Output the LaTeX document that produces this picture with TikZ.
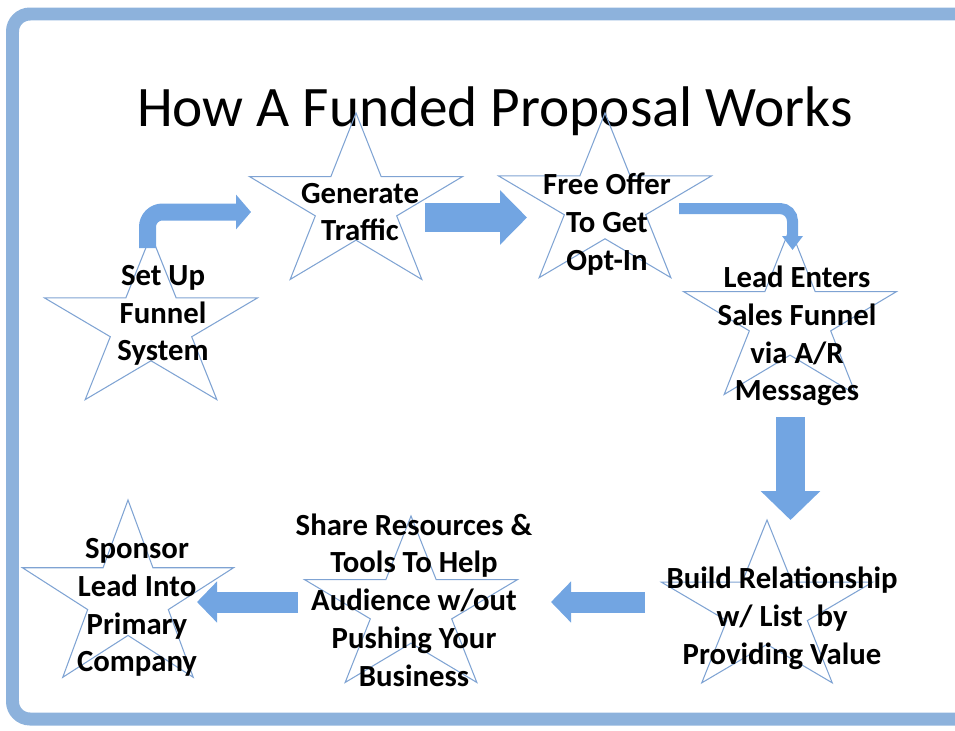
\documentclass[tikz,border=0pt]{standalone}
\usepackage{fontspec}
\setmainfont{Carlito}
\usetikzlibrary{arrows.meta}
\definecolor{frameblue}{HTML}{8DB2DC}
\definecolor{starblue}{HTML}{7FA3D3}
\definecolor{arrowblue}{HTML}{72A5E2}
\tikzset{%
    steptext/.style={align=center, inner sep=0pt,
        font=\fontsize{17.5}{21.5}\selectfont\bfseries},
    starline/.style={draw=starblue, line width=0.6pt},
    blockarrow/.style n args={3}{draw=arrowblue, line width=#1,
        -{Triangle[width=#2,length=#3]}},
    pics/fstar/.style n args={2}{code={%
        \draw[starline, xscale=#1, yscale=-#2] (90:1)
            \foreach \k in {1,...,9}{ -- ({90+36*\k}:{0.691+0.309*cos(180*\k)}) } -- cycle;
    }}
}

\begin{document}
\begin{tikzpicture}[x=0.02cm, y=-0.02cm]
    \useasboundingbox (0,0) rectangle (955,730);
    \draw[frameblue, line width=0.26cm, rounded corners=0.35cm] (12.5,14) rectangle (1010,719);
    \node[anchor=base, font=\fontsize{32.6}{39}\selectfont] (title) at (495,126) {How A Funded Proposal Works};

    % stars
    \path (151,326) pic {fstar={112}{91}};
    \path (356,205) pic {fstar={112}{92}};
    \path (605,204) pic {fstar={112}{91}};
    \path (790,320) pic {fstar={112}{92}};
    \path (767,610) pic {fstar={111}{90}};
    \path (411,608) pic {fstar={112}{92}};
    \path (128,598) pic {fstar={111}{98}};

    % arrow ends
    \coordinate (a1s) at (147.5,248);  \coordinate (a1e) at (251,212);
    \coordinate (a2s) at (425,217.5);  \coordinate (a2e) at (527,217.5);
    \coordinate (a3s) at (679,208.5);  \coordinate (a3e) at (792.5,250);
    \coordinate (a4s) at (790.5,417);  \coordinate (a4e) at (790.5,520);
    \coordinate (a5s) at (645,602);    \coordinate (a5e) at (551,602);
    \coordinate (a6s) at (298,602);    \coordinate (a6e) at (197,602);

    \draw[blockarrow={0.34cm}{0.68cm}{0.3cm}, rounded corners=0.3cm] (a1s) |- (a1e);
    \draw[blockarrow={0.58cm}{1.06cm}{0.54cm}] (a2s) -- (a2e);
    \draw[blockarrow={0.22cm}{0.4cm}{0.28cm}, rounded corners=0.25cm] (a3s) -| (a3e);
    \draw[blockarrow={0.58cm}{1.16cm}{0.58cm}] (a4s) -- (a4e);
    \draw[blockarrow={0.42cm}{0.8cm}{0.4cm}] (a5s) -- (a5e);
    \draw[blockarrow={0.42cm}{0.8cm}{0.4cm}] (a6s) -- (a6e);

    % step labels
    \node[steptext] (setup) at (163,315.5) {Set Up\\Funnel\\System};
    \node[steptext] (traffic) at (360,212) {Generate\\Traffic};
    \node[steptext] (optin) at (607,224) {Free Offer\\To Get\\Opt-In};
    \node[steptext] (leadin) at (797,336) {Lead Enters\\Sales Funnel\\via A/R\\Messages};
    \node[steptext] (relation) at (782,618.5) {Build Relationship\\w/ List\ \ by\\Providing Value};
    \node[steptext] (share) at (414,600) {Share Resources \&\\Tools To Help\\Audience w/out\\Pushing Your\\Business};
    \node[steptext] (sponsor) at (137,607.5) {Sponsor\\Lead Into\\Primary\\Company};
\end{tikzpicture}
\end{document}
